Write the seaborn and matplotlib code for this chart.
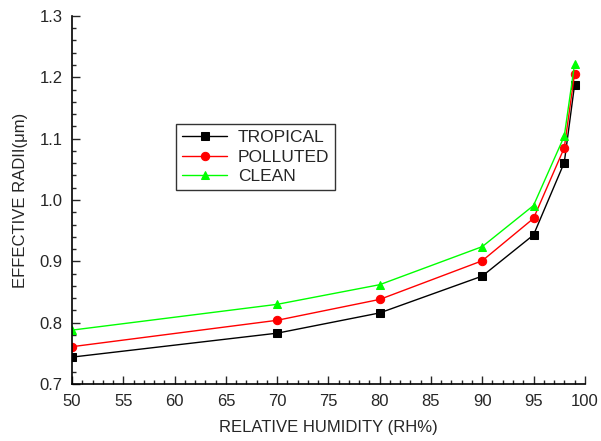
import pandas as pd
import matplotlib.pyplot as plt
import seaborn as sns
from matplotlib.ticker import MultipleLocator

# data
rh = [50, 70, 80, 90, 95, 98, 99]
tropical = [0.744, 0.783, 0.816, 0.876, 0.943, 1.061, 1.187]
polluted = [0.761, 0.804, 0.838, 0.901, 0.970, 1.085, 1.205]
clean = [0.788, 0.830, 0.862, 0.924, 0.991, 1.104, 1.221]

names = ["TROPICAL", "POLLUTED", "CLEAN"]
colors = ["black", "red", "#00ff00"]
markers = ["s", "o", "^"]

df = pd.concat([
    pd.DataFrame({"RH": rh, "Reff": vals, "type": name})
    for name, vals in zip(names, [tropical, polluted, clean])
])

sns.set_style("ticks")
plt.rcParams["font.family"] = ["Liberation Sans", "DejaVu Sans"]

fig = plt.figure(figsize=(6.01, 4.41), dpi=100)
ax = fig.add_axes([0.12, 0.129, 0.853, 0.835])

for name, c, m in zip(names, colors, markers):
    sns.lineplot(data=df[df["type"] == name], x="RH", y="Reff", color=c, marker=m,
                 markersize=6, markeredgecolor=c, linewidth=1, label=name, ax=ax)

ax.set_xlim(50, 100)
ax.set_ylim(0.7, 1.3)
ax.xaxis.set_major_locator(MultipleLocator(5))
ax.xaxis.set_minor_locator(MultipleLocator(1))
ax.yaxis.set_major_locator(MultipleLocator(0.1))
ax.yaxis.set_minor_locator(MultipleLocator(0.02))
ax.yaxis.set_major_formatter(plt.FormatStrFormatter("%.1f"))
ax.tick_params(which="both", direction="in", labelsize=12, width=1)
ax.tick_params(which="major", length=6, pad=7)
ax.tick_params(which="minor", length=3)
sns.despine(ax=ax)
for s in ["left", "bottom"]:
    ax.spines[s].set_linewidth(1.2)
    ax.spines[s].set_color("black")

ax.set_xlabel("RELATIVE HUMIDITY (RH%)", fontsize=12, labelpad=8)
ax.set_ylabel("EFFECTIVE RADII(\u03bcm)", fontsize=12, labelpad=8)

leg = ax.legend(loc="upper left", bbox_to_anchor=(0.186, 0.73), fontsize=12.5,
                frameon=True, fancybox=False, edgecolor="black", handlelength=2.6,
                borderpad=0.35, labelspacing=0.25, handletextpad=0.6)
leg.get_frame().set_linewidth(1)

fig.savefig("out.png", dpi=100)
